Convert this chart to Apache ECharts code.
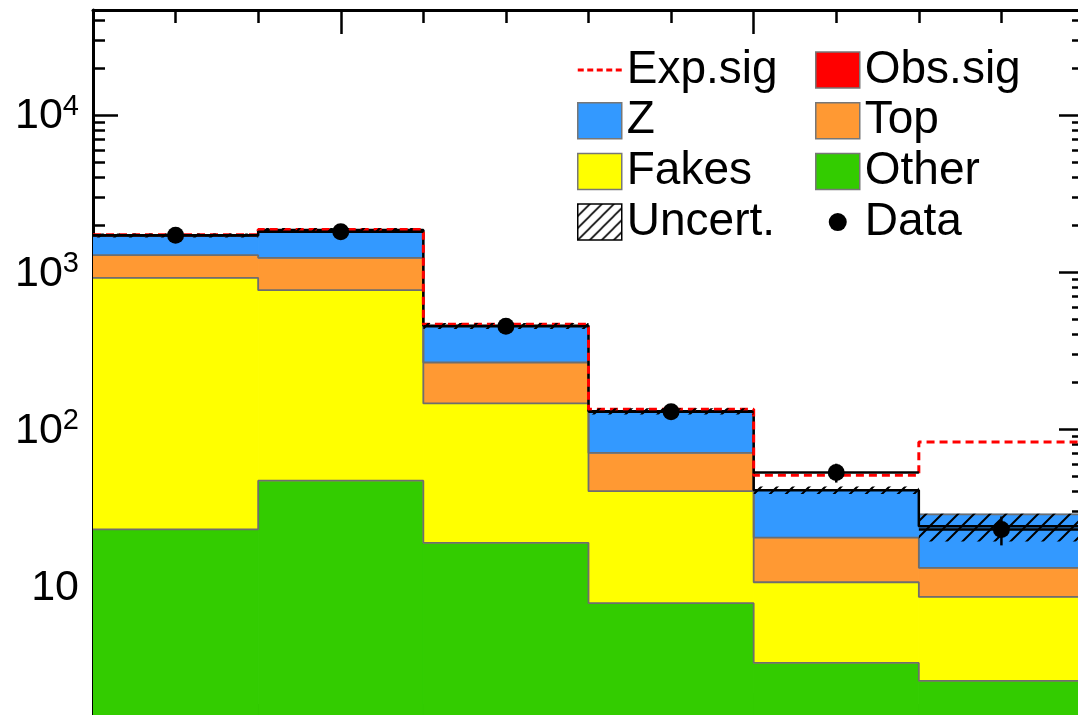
<!DOCTYPE html>
<html>
<head>
<meta charset="utf-8">
<script src="https://cdn.jsdelivr.net/npm/echarts@6/dist/echarts.min.js"></script>
<style>
html, body { margin: 0; padding: 0; background: #fff; overflow: hidden; }
#chart { width: 1078px; height: 715px; }
</style>
</head>
<body>
<div id="chart"></div>
<script>
// Histogram bin edges (x axis units)
const binEdges = [20, 40, 60, 80, 100, 120, 140];

// Background yields per process, per bin
const otherYield = [23, 47, 18.9, 7.8, 3.25, 2.5];
const fakesYield = [897, 721, 127, 32.5, 7.35, 6.05];
const topYield   = [363, 465, 120, 30.3, 9.8, 4.55];
const zYield     = [427, 620, 189, 59.4, 20.5, 15.6];

// Total background (outline) and its uncertainty
const bkgTotal = [1710, 1853, 455, 130, 40.9, 24.1];
const bkgUnc   = [50, 55, 20, 6, 2.2, 4.8];

// Expected signal on top of background
const expSigTotal = [1730, 1870, 466, 134, 50.9, 83];

// Observed events
const dataCounts = [1720, 1810, 453, 129, 53, 23];

// Axis ticks
const yMajorTicks = [10, 100, 1000, 10000];
const xMajorTicks = [50, 100];
const yMin = 1.47, yMax = 46700;

const yMinorTicks = [];
[1, 10, 100, 1000, 10000].forEach(d => {
  for (let m = 2; m <= 9; m++) {
    const v = m * d;
    if (v > yMin && v < yMax) yMinorTicks.push(v);
  }
});

const FONT = '"Liberation Sans", Arial, Helvetica, sans-serif';

// Diagonal hatch pattern for the uncertainty band
function makeHatch(size, lw) {
  const c = document.createElement('canvas');
  c.width = size; c.height = size;
  const g = c.getContext('2d');
  g.strokeStyle = '#000';
  g.lineWidth = lw;
  g.beginPath();
  g.moveTo(0, size); g.lineTo(size, 0);
  g.moveTo(-size / 2, size / 2); g.lineTo(size / 2, -size / 2);
  g.moveTo(size / 2, size * 1.5); g.lineTo(size * 1.5, size / 2);
  g.stroke();
  return { image: c, repeat: 'repeat' };
}
const hatch = makeHatch(16, 2);
const hatchLegend = makeHatch(12, 1.6);

// Step-histogram points: value held from each left edge to the next edge
function stepData(vals) {
  const d = vals.map((v, i) => [binEdges[i], v]);
  d.push([binEdges[vals.length], vals[vals.length - 1]]);
  return d;
}
const centers = binEdges.slice(0, -1).map((x, i) => (x + binEdges[i + 1]) / 2);

// Cumulative stack: Other, Fakes, Top, Z (bottom to top)
const layers = [
  { name: 'Other', vals: otherYield, color: '#33cc00' },
  { name: 'Fakes', vals: fakesYield, color: '#ffff00' },
  { name: 'Top',   vals: topYield,   color: '#ff9933' },
  { name: 'Z',     vals: zYield,     color: '#3399ff' }
];
let running = binEdges.slice(0, -1).map(() => 0);
layers.forEach(l => {
  l.lo = running.slice();
  running = running.map((r, i) => r + l.vals[i]);
  l.hi = running.slice();
});

const outline = { color: '#6e6e6e', width: 1.8 };
const tickStyle = { color: '#000', width: 2.5 };
const frameLine = { show: true, lineStyle: { color: '#000', width: 3 } };

function binRect(api, x0, x1, lo, hi) {
  const p0 = api.coord([x0, hi]);
  const p1 = api.coord([x1, lo]);
  return { x: p0[0], y: p0[1], width: p1[0] - p0[0], height: p1[1] - p0[1] };
}

function layerFill(l) {
  return {
    name: l.name, type: 'custom', z: 2, clip: true,
    itemStyle: { color: l.color },
    data: binEdges.slice(0, -1).map((x, i) => [x, binEdges[i + 1], Math.max(l.lo[i], yMin), l.hi[i]]),
    encode: { x: [0, 1], y: [2, 3] },
    renderItem: (params, api) => ({
      type: 'rect',
      shape: binRect(api, api.value(0), api.value(1), api.value(2), api.value(3)),
      // same-colour stroke closes the anti-aliasing seam between neighbouring bins
      style: { fill: l.color, stroke: l.color, lineWidth: 1 }
    })
  };
}

function layerEdge(l) {
  return {
    name: l.name + ' edge', type: 'line', step: 'end', data: stepData(l.hi),
    symbol: 'none', lineStyle: outline, z: 3, silent: true
  };
}

function xAx(position, major) {
  return {
    type: 'value', min: 20, max: 140, position,
    interval: major ? undefined : 10,
    axisLine: major ? { show: false } : frameLine,
    axisTick: major
      ? { show: true, inside: true, length: 24, customValues: xMajorTicks, lineStyle: tickStyle }
      : { show: true, inside: true, length: 13, lineStyle: tickStyle },
    axisLabel: { show: false }, splitLine: { show: false }
  };
}

function yAx(position, major, labels) {
  const ax = {
    type: 'log', logBase: 10, min: yMin, max: yMax, position,
    axisLine: major ? frameLine : { show: false },
    axisTick: { show: true, inside: true, length: major ? 25 : 12,
      customValues: major ? yMajorTicks : yMinorTicks, lineStyle: tickStyle },
    minorTick: { show: false },
    splitLine: { show: false },
    axisLabel: { show: false }
  };
  if (labels) {
    ax.axisLabel = {
      show: true, customValues: yMajorTicks, margin: 14, color: '#000',
      formatter: v => {
        const e = Math.round(Math.log10(v));
        return e === 1 ? '{b|10}' : '{b|10}{s|' + e + '}';
      },
      rich: {
        b: { fontSize: 43, fontFamily: FONT, color: '#000', lineHeight: 46, verticalAlign: 'bottom' },
        s: { fontSize: 29, fontFamily: FONT, color: '#000', lineHeight: 26, verticalAlign: 'top' }
      }
    };
  }
  return ax;
}

const boxStyle = c => ({ color: c, borderColor: '#777', borderWidth: 1.5 });
const legendCommon = {
  orient: 'vertical', top: 45, padding: 0, itemWidth: 44, itemHeight: 36, itemGap: 0.7,
  selectedMode: false,
  textStyle: { fontFamily: FONT, fontSize: 46, lineHeight: 50, color: '#000' }
};
const dashIcon = 'path://M0,0M44,36M0,16.5h6v3h-6ZM9.5,16.5h6v3h-6ZM19,16.5h6v3h-6ZM28.5,16.5h6v3h-6ZM38,16.5h6v3h-6Z';
const dotIcon = 'path://M0,0M44,36M31,18A9,9,0,1,1,13,18A9,9,0,1,1,31,18Z';

const chart = echarts.init(document.getElementById('chart'), null, { renderer: 'canvas' });
chart.setOption({
  animation: false,
  backgroundColor: '#fff',
  grid: { left: 93, right: -6, top: 10, bottom: -2, outerBoundsMode: 'none', containLabel: false },
  xAxis: [xAx('bottom', false), xAx('bottom', true), xAx('top', false), xAx('top', true)],
  yAxis: [yAx('left', true, true), yAx('left', false), yAx('right', true), yAx('right', false)],
  legend: [
    Object.assign({}, legendCommon, {
      left: 577,
      data: [
        { name: 'Exp.sig', icon: dashIcon, itemStyle: { color: '#ff0000', borderWidth: 0 } },
        { name: 'Z', icon: 'rect', itemStyle: boxStyle('#3399ff') },
        { name: 'Fakes', icon: 'rect', itemStyle: boxStyle('#ffff00') },
        { name: 'Uncert.', icon: 'rect', itemStyle: { color: hatchLegend, borderColor: '#000', borderWidth: 1.5 } }
      ]
    }),
    Object.assign({}, legendCommon, {
      left: 815,
      data: [
        { name: 'Obs.sig', icon: 'rect', itemStyle: boxStyle('#ff0000') },
        { name: 'Top', icon: 'rect', itemStyle: boxStyle('#ff9933') },
        { name: 'Other', icon: 'rect', itemStyle: boxStyle('#33cc00') },
        { name: 'Data', icon: dotIcon, itemStyle: { color: '#000', borderWidth: 0 } }
      ]
    })
  ],
  series: [
    ...layers.map(layerFill),
    ...layers.map(layerEdge),
    { name: 'Obs.sig', type: 'line', data: [], itemStyle: { color: '#ff0000' } },
    {
      name: 'Bkg. total', type: 'line', step: 'end', data: stepData(bkgTotal),
      symbol: 'none', lineStyle: { color: '#000', width: 2.5 }, z: 4
    },
    {
      name: 'Uncert.', type: 'custom', z: 6,
      data: binEdges.slice(0, -1).map((x, i) => [x, binEdges[i + 1], bkgTotal[i] - bkgUnc[i], bkgTotal[i] + bkgUnc[i]]),
      encode: { x: [0, 1], y: [2, 3] },
      itemStyle: { color: '#000' },
      renderItem: (params, api) => ({
        type: 'rect',
        shape: binRect(api, api.value(0), api.value(1), api.value(2), api.value(3)),
        style: { fill: hatch, stroke: null }
      })
    },
    {
      name: 'Exp.sig', type: 'line', step: 'end', data: stepData(expSigTotal),
      symbol: 'none', itemStyle: { color: '#ff0000' },
      lineStyle: { color: '#ff0000', width: 3, type: [8, 5] }, z: 5
    },
    {
      name: 'Data errors', type: 'custom', z: 9,
      data: dataCounts.map((n, i) => [centers[i], n, binEdges[i], binEdges[i + 1], Math.sqrt(n)]),
      encode: { x: 0, y: 1 },
      renderItem: (params, api) => {
        const x = api.value(0), n = api.value(1), err = api.value(4);
        const pl = api.coord([api.value(2), n]);
        const pr = api.coord([api.value(3), n]);
        const pu = api.coord([x, n + err]);
        const pd = api.coord([x, n - err]);
        const st = { stroke: '#000', lineWidth: 2.5 };
        return {
          type: 'group',
          children: [
            { type: 'line', shape: { x1: pl[0], y1: pl[1], x2: pr[0], y2: pr[1] }, style: st },
            { type: 'line', shape: { x1: pu[0], y1: pu[1], x2: pd[0], y2: pd[1] }, style: st }
          ]
        };
      }
    },
    {
      name: 'Data', type: 'scatter', z: 10,
      data: dataCounts.map((n, i) => [centers[i], n]),
      symbol: 'circle', symbolSize: 17, itemStyle: { color: '#000', opacity: 1 }
    }
  ]
});
</script>
</body>
</html>
